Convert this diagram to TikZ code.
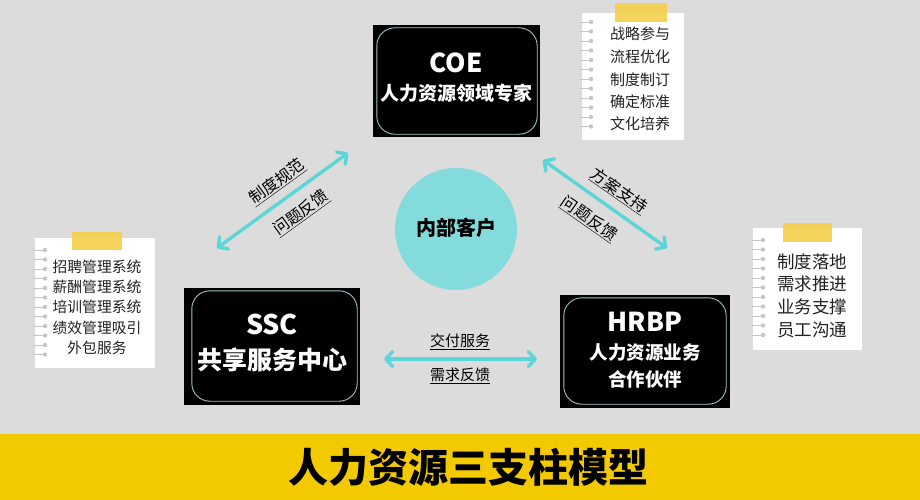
\documentclass[tikz,border=0pt]{standalone}
\usepackage{fontspec}
\setmainfont{Noto Sans CJK SC}
\newfontfamily\cjk{Noto Sans CJK SC}
\usetikzlibrary{arrows.meta}
\definecolor{bgc}{HTML}{DCDCDC}
\definecolor{bannerc}{HTML}{F3CA00}
\definecolor{arrowc}{HTML}{5CD5D8}
\definecolor{circc}{HTML}{84DBDC}
\definecolor{tapec}{HTML}{F5D04A}
\definecolor{bindc}{HTML}{C6C6C6}
\definecolor{innerc}{HTML}{9CC4C4}
\definecolor{notetext}{HTML}{222222}
\newcommand{\fsz}[1]{\fontsize{#1}{#1}\selectfont}
\tikzset{
  hrbox/.style={fill=black, draw=none, inner sep=0pt, rectangle},
  innerline/.style={draw=innerc, line width=0.9pt, rounded corners=18pt},
  boxtitle/.style={text=white, font=\cjk\bfseries\fsz{26}, inner sep=0pt},
  boxsub/.style={text=white, font=\cjk\bfseries\fsz{#1}, inner sep=0pt},
  paper/.style={fill=white, draw=none},
  tape/.style={fill=tapec, opacity=0.9},
  notetxt/.style={text=notetext, font=\cjk\fsz{#1}, inner sep=0pt},
  flow/.style={draw=arrowc, line width=3.4pt, line cap=round,
    {Straight Barb[length=7pt,width=15pt,round]}-{Straight Barb[length=7pt,width=15pt,round]}},
  flowlbl/.style={text=black, font=\cjk\fsz{#1}, inner sep=0pt},
}
\begin{document}
\begin{tikzpicture}[x=1pt,y=-1pt]
\fill[bgc] (0,0) rectangle (920,500);
\useasboundingbox (0,0) rectangle (920,500);
\fill[bannerc] (0,434) rectangle (920,500);
\node[font=\cjk\bfseries\fsz{40}, text=black, inner sep=0pt] (title) at (468,467) {人力资源三支柱模型};

% central circle
\node[circle, fill=circc, minimum size=122pt, inner sep=0pt] (cust) at (456,229) {};
\node[font=\cjk\bfseries\fsz{20}, text=black, inner sep=0pt] (custtxt) at (456,228) {内部客户};

% COE box
\node[hrbox, minimum width=167pt, minimum height=112pt] (coe) at (456.5,81) {};
\draw[innerline] ([xshift=4pt,yshift=-3pt]coe.north west) rectangle ([xshift=-3pt,yshift=3pt]coe.south east);
\node[boxtitle] (coet) at (456,63) {COE};
\node[boxsub=19] (coes) at (456,93) {人力资源领域专家};

% SSC box
\node[hrbox, minimum width=176pt, minimum height=117pt] (ssc) at (272,346.5) {};
\draw[innerline] ([xshift=8pt,yshift=-3pt]ssc.north west) rectangle ([xshift=-3pt,yshift=4pt]ssc.south east);
\node[boxtitle, font=\cjk\bfseries\fsz{27}] (ssct) at (272,324) {SSC};
\node[boxsub=25] (sscs) at (272,360) {共享服务中心};

% HRBP box
\node[hrbox, minimum width=170pt, minimum height=113pt] (hrbp) at (645,351.5) {};
\draw[innerline] ([xshift=4pt,yshift=-3pt]hrbp.north west) rectangle ([xshift=-4pt,yshift=4pt]hrbp.south east);
\node[boxtitle] (hrbpt) at (645,322) {HRBP};
\node[boxsub=18.5] (hrbps1) at (645,353) {人力资源业务};
\node[boxsub=18.5] (hrbps2) at (645,379) {合作伙伴};

% arrows
\coordinate (la) at (217,248);
\coordinate (lb) at (348,153);
\draw[flow] (la) -- (lb);
\node[flowlbl=16, rotate=36] (l1) at (277,182) {\underline{制度规范}};
\node[flowlbl=16, rotate=36] (l2) at (301,213) {\underline{问题反馈}};

\coordinate (ra) at (543,160);
\coordinate (rb) at (667,248);
\draw[flow] (ra) -- (rb);
\node[flowlbl=16, rotate=-35] (r1) at (619,191) {\underline{方案支持}};
\node[flowlbl=16, rotate=-35] (r2) at (589,219) {\underline{问题反馈}};

\coordinate (ba) at (384,359);
\coordinate (bb) at (537,359);
\draw[flow] (ba) -- (bb);
\node[flowlbl=15] (b1) at (460,342) {\underline{交付服务}};
\node[flowlbl=15] (b2) at (460,376) {\underline{需求反馈}};

% note top right
\fill[paper] (582,13) rectangle (684,140);
\foreach \yy in {22,31.5,...,134} {
  \draw[bindc, line width=0.8pt] (580,\yy) -- (591,\yy);
  \fill[bindc] (591,\yy) circle (2.2pt);
}
\fill[tape] (615,3) rectangle (667,22);
\node[notetxt=15, anchor=west] (n1a) at (610,34) {战略参与};
\node[notetxt=15, anchor=west] (n1b) at (610,57) {流程优化};
\node[notetxt=15, anchor=west] (n1c) at (610,80) {制度制订};
\node[notetxt=15, anchor=west] (n1d) at (610,102) {确定标准};
\node[notetxt=15, anchor=west] (n1e) at (610,124) {文化培养};

% note left
\fill[paper] (35,238) rectangle (155,368);
\foreach \yy in {250,259.5,...,362} {
  \draw[bindc, line width=0.8pt] (33,\yy) -- (45,\yy);
  \fill[bindc] (45,\yy) circle (2.2pt);
}
\fill[tape] (72,232) rectangle (122,250);
\node[notetxt=14.8] (n2a) at (97,267) {招聘管理系统};
\node[notetxt=14.8] (n2b) at (97,287) {薪酬管理系统};
\node[notetxt=14.8] (n2c) at (97,307) {培训管理系统};
\node[notetxt=14.8] (n2d) at (97,328) {绩效管理吸引};
\node[notetxt=14.8] (n2e) at (97,348) {外包服务};

% note right
\fill[paper] (753,228) rectangle (862,350);
\foreach \yy in {240,249.5,...,344} {
  \draw[bindc, line width=0.8pt] (751,\yy) -- (763,\yy);
  \fill[bindc] (763,\yy) circle (2.2pt);
}
\fill[tape] (783,223) rectangle (832,242);
\node[notetxt=17.5, anchor=west] (n3a) at (777,262) {制度落地};
\node[notetxt=17.5, anchor=west] (n3b) at (777,284) {需求推进};
\node[notetxt=17.5, anchor=west] (n3c) at (777,307) {业务支撑};
\node[notetxt=17.5, anchor=west] (n3d) at (777,330) {员工沟通};
\end{tikzpicture}
\end{document}
